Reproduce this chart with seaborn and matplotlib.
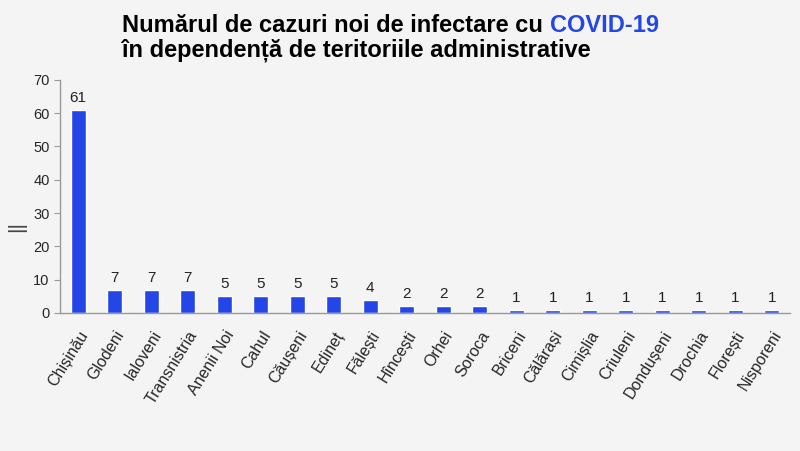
import matplotlib
matplotlib.use("Agg")
import matplotlib.pyplot as plt
import seaborn as sns
import pandas as pd
import numpy as np

# data
raioane = ["Chișinău", "Glodeni", "Ialoveni", "Transnistria", "Anenii Noi", "Cahul",
           "Căușeni", "Edineț", "Fălești", "Hîncești", "Orhei", "Soroca", "Briceni",
           "Călărași", "Cimișlia", "Criuleni", "Dondușeni", "Drochia", "Florești",
           "Nisporeni"]
cazuri = [61, 7, 7, 7, 5, 5, 5, 5, 4, 2, 2, 2, 1, 1, 1, 1, 1, 1, 1, 1]

df = pd.DataFrame({"raion": raioane, "cazuri": cazuri})

sns.set_style("white")
plt.rcParams['font.family'] = ['Liberation Sans', 'DejaVu Sans']

bg = "#f4f4f4"
blue = "#2446e6"

fig = plt.figure(figsize=(8, 4.51), dpi=100, facecolor=bg)
ax = fig.add_axes([0.075, 0.306, 0.9125, 0.517])
ax.set_facecolor(bg)

sns.barplot(data=df, x="raion", y="cazuri", color=blue, width=0.4, ax=ax, saturation=1)

for i, v in enumerate(cazuri):
    ax.text(i, v + 1.5, str(v), ha="center", va="bottom", fontsize=11, color="#222222")

ax.set_ylim(0, 70)
ax.set_xlim(-0.5, len(raioane) - 0.5)
ax.set_yticks(range(0, 71, 10))
ax.set_xticks(np.arange(-0.5, len(raioane), 1))
ax.set_xticklabels([])
ax.set_xticks(range(len(raioane)), minor=True)
ax.set_xticklabels(raioane, minor=True, rotation=58, ha="right", rotation_mode="anchor",
                   fontsize=11.5)
ax.tick_params(axis="x", which="major", length=5, color="#999999", direction="out")
ax.tick_params(axis="x", which="minor", length=0, pad=11)
ax.tick_params(axis="y", length=4, color="#999999", labelsize=10.5, direction="out", left=True)
ax.set_xlabel("")
ax.set_ylabel("||", fontsize=15, color="#444444", rotation=90)
ax.yaxis.set_label_coords(-0.047, 0.37)
for s in ["top", "right"]:
    ax.spines[s].set_visible(False)
for s in ["left", "bottom"]:
    ax.spines[s].set_color("#999999")
    ax.spines[s].set_linewidth(1)

# title, with COVID-19 in blue
t1 = fig.text(0.153, 0.929, "Numărul de cazuri noi de infectare cu ", fontsize=17,
              fontweight="bold", color="black", va="baseline")
fig.canvas.draw()
bb = t1.get_window_extent()
fig.text(bb.x1 / fig.bbox.width, 0.929, "COVID-19", fontsize=17, fontweight="bold",
         color=blue, va="baseline")
fig.text(0.153, 0.874, "în dependență de teritoriile administrative", fontsize=17,
         fontweight="bold", color="black", va="baseline")

fig.savefig("out.png", dpi=100, facecolor=bg)
